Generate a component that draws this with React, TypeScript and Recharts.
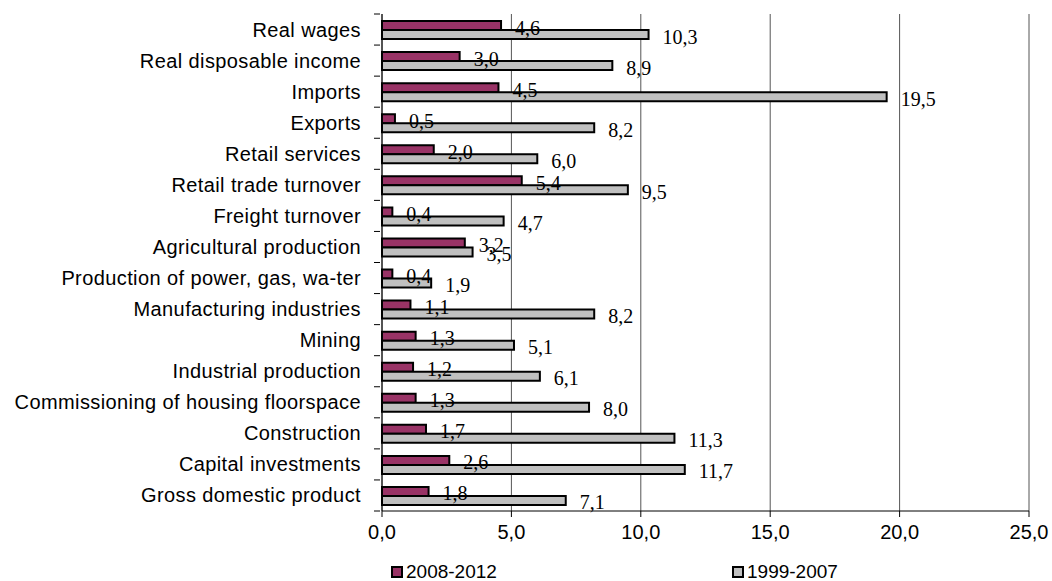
import React from "react";
import {
  BarChart,
  Bar,
  XAxis,
  YAxis,
  CartesianGrid,
  Legend,
  LabelList,
} from "recharts";

const categories = [
  "Real wages",
  "Real disposable income",
  "Imports",
  "Exports",
  "Retail services",
  "Retail trade turnover",
  "Freight turnover",
  "Agricultural production",
  "Production of power, gas, wa-ter",
  "Manufacturing industries",
  "Mining",
  "Industrial production",
  "Commissioning of housing floorspace",
  "Construction",
  "Capital investments",
  "Gross domestic product",
];

const series2008 = [4.6, 3.0, 4.5, 0.5, 2.0, 5.4, 0.4, 3.2, 0.4, 1.1, 1.3, 1.2, 1.3, 1.7, 2.6, 1.8];
const series1999 = [10.3, 8.9, 19.5, 8.2, 6.0, 9.5, 4.7, 3.5, 1.9, 8.2, 5.1, 6.1, 8.0, 11.3, 11.7, 7.1];

const xTicks = [0, 5, 10, 15, 20, 25];
const seriesNames = ["2008-2012", "1999-2007"];

const PURPLE = "#993366";
const GRAY = "#C0C0C0";

const data = categories.map((c, i) => ({
  name: c,
  a: series2008[i],
  b: series1999[i],
}));

const fmt = (v: number) => v.toFixed(1).replace(".", ",");

const SANS = "'Liberation Sans', Arial, sans-serif";
const SERIF = "'Liberation Serif', 'Times New Roman', serif";

const BAND = (511 - 14) / categories.length;

const YTick = (props: any) => {
  const { x, y, payload, index } = props;
  const axisX = x;
  const top = y - BAND / 2;
  const bottom = y + BAND / 2;
  return (
    <g>
      <line x1={axisX - 6} x2={axisX} y1={top} y2={top} stroke="#000" />
      {index === categories.length - 1 && (
        <line x1={axisX - 6} x2={axisX} y1={bottom} y2={bottom} stroke="#000" />
      )}
      <text
        x={axisX - 19}
        y={y}
        textAnchor="end"
        dominantBaseline="central"
        fontFamily={SANS}
        fontSize={20}
        letterSpacing={0.4}
        fill="#000"
      >
        {payload.value}
      </text>
    </g>
  );
};

const ValueLabel = (props: any) => {
  const { x, y, width, height, value } = props;
  return (
    <text
      x={x + width + 14}
      y={y + height / 2 + 2}
      dominantBaseline="central"
      fontFamily={SERIF}
      fontSize={20}
      fill="#000"
    >
      {fmt(value)}
    </text>
  );
};

const LegendContent = () => {
  const items = [
    { name: seriesNames[0], color: PURPLE, left: 391 },
    { name: seriesNames[1], color: GRAY, left: 732 },
  ];
  return (
    <div style={{ position: "relative", width: 1052, height: 20 }}>
      {items.map((it) => (
        <div
          key={it.name}
          style={{
            position: "absolute",
            left: it.left,
            top: 0,
            height: 20,
            display: "flex",
            alignItems: "center",
            fontFamily: SANS,
            fontSize: 19,
            color: "#000",
          }}
        >
          <span
            style={{
              display: "inline-block",
              width: 8,
              height: 8,
              background: it.color,
              border: "2px solid #000",
              marginRight: 3,
            }}
          />
          {it.name}
        </div>
      ))}
    </div>
  );
};

export default function App() {
  return (
    <div style={{ width: 1052, height: 581, background: "#fff" }}>
      <style>{`body{margin:0;overflow:hidden;}`}</style>
      <BarChart
        width={1052}
        height={581}
        data={data}
        layout="vertical"
        margin={{ top: 14, right: 23, left: 0, bottom: 20 }}
        barGap={0}
        barSize={9}
      >
        <CartesianGrid horizontal={false} stroke="#555" strokeWidth={1} />
        <XAxis
          type="number"
          domain={[0, 25]}
          ticks={xTicks}
          tickFormatter={fmt}
          axisLine={{ stroke: "#000" }}
          tickLine={{ stroke: "#000" }}
          tickSize={6}
          tickMargin={8}
          height={30}
          interval={0}
          tick={{ fontFamily: SANS, fontSize: 20, fill: "#000" }}
        />
        <XAxis
          xAxisId="top"
          orientation="top"
          type="number"
          domain={[0, 25]}
          ticks={xTicks}
          tick={false}
          tickLine={false}
          axisLine={{ stroke: "#808080" }}
          height={0}
        />
        <YAxis
          type="category"
          dataKey="name"
          width={382}
          axisLine={{ stroke: "#000" }}
          tickLine={false}
          tickSize={0}
          interval={0}
          tick={<YTick />}
        />
        <Legend
          verticalAlign="bottom"
          content={<LegendContent />}
          wrapperStyle={{ left: 0, top: 562, bottom: "auto", width: 1052, height: 20 }}
        />
        <Bar
          dataKey="a"
          name={seriesNames[0]}
          fill={PURPLE}
          stroke="#000"
          strokeWidth={2}
          isAnimationActive={false}
        >
          <LabelList dataKey="a" content={<ValueLabel />} />
        </Bar>
        <Bar
          dataKey="b"
          name={seriesNames[1]}
          fill={GRAY}
          stroke="#000"
          strokeWidth={2}
          isAnimationActive={false}
        >
          <LabelList dataKey="b" content={<ValueLabel />} />
        </Bar>
      </BarChart>
    </div>
  );
}
